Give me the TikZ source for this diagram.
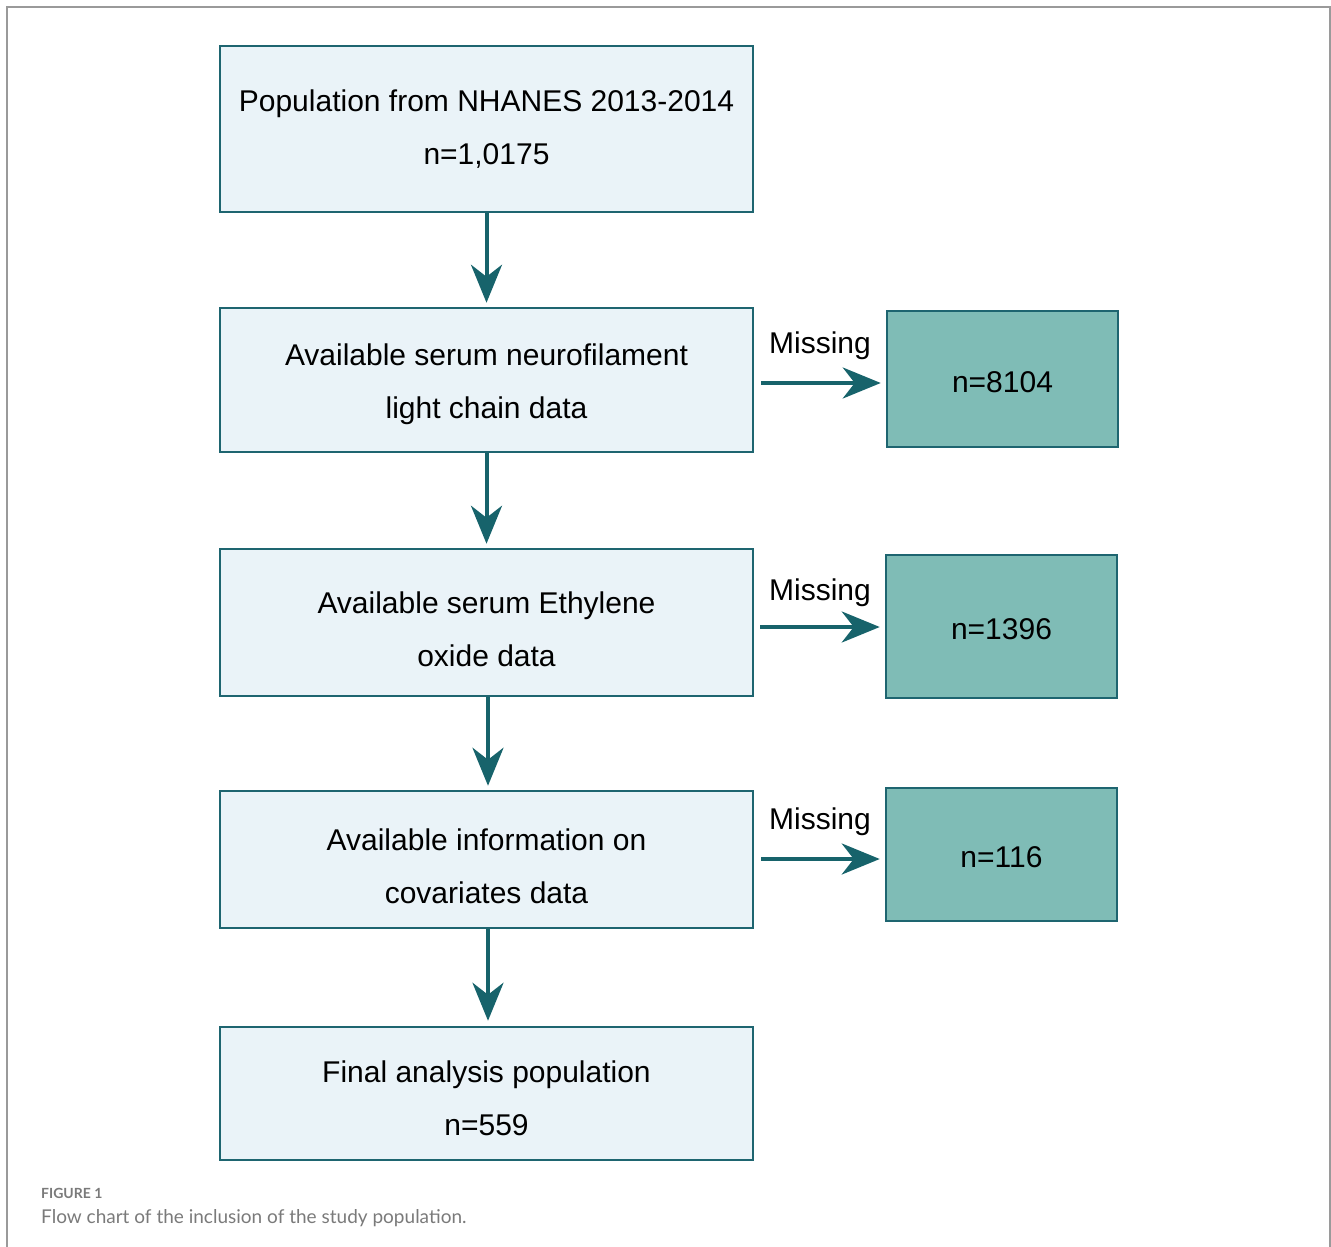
\documentclass[tikz,border=0pt]{standalone}
\usepackage{fontspec}
\setmainfont{Liberation Sans}
\newfontfamily\capfont{Lato}
\usetikzlibrary{arrows.meta}
\definecolor{boxfill}{HTML}{EAF3F8}
\definecolor{boxline}{HTML}{1E6570}
\definecolor{missfill}{HTML}{7FBCB6}
\definecolor{arrowcol}{HTML}{17636B}
\definecolor{framegray}{HTML}{9A9A9A}
\definecolor{capgray}{HTML}{7A7A7A}
\begin{document}
\begin{tikzpicture}[x=1pt,y=-1pt,
  mainbox/.style={draw=boxline, line width=2.5pt, fill=boxfill, minimum width=533pt, inner sep=0pt},
  maintext/.style={align=center, inner sep=0pt, font=\fontsize{30}{53}\selectfont},
  missbox/.style={draw=boxline, line width=2.5pt, fill=missfill, minimum width=231pt, inner sep=0pt},
  lbl/.style={font=\fontsize{30}{35}\selectfont, inner sep=0pt},
  flow/.style={draw=arrowcol, line width=4pt, -{Stealth[length=38pt, width=31pt, inset=12pt]}}
]
\useasboundingbox (0,0) rectangle (1331,1247);
\draw[framegray, line width=1.5pt] (7,1247) -- (7,7) -- (1330,7) -- (1330,1247);

\node[mainbox, minimum height=166pt] (b1) at (486.5,129) {};
\node[mainbox, minimum height=144pt] (b2) at (486.5,380) {};
\node[mainbox, minimum height=147pt] (b3) at (486.5,622.5) {};
\node[mainbox, minimum height=137pt] (b4) at (486.5,859.5) {};
\node[mainbox, minimum height=133pt] (b5) at (486.5,1093.5) {};

\node[maintext] (t1) at (486.5,129) {Population from NHANES 2013-2014\\n=1,0175};
\node[maintext] (t2) at (486.5,384.5) {Available serum neurofilament\\light chain data};
\node[maintext] (t3) at (486.5,629) {Available serum Ethylene\\oxide data};
\node[maintext] (t4) at (486.5,866) {Available information on\\covariates data};
\node[maintext] (t5) at (486.5,1098.5) {Final analysis population\\n=559};

\node[missbox, minimum height=136pt] (r1) at (1002.5,379) {};
\node[missbox, minimum height=143pt] (r2) at (1001.5,626.5) {};
\node[missbox, minimum height=133pt] (r3) at (1001.5,854.5) {};

\node[lbl] (n1) at (1002.5,382.5) {n=8104};
\node[lbl] (n2) at (1001.5,629.5) {n=1396};
\node[lbl] (n3) at (1001.5,857) {n=116};

\node[lbl] (m1) at (820,346) {Missing};
\node[lbl] (m2) at (820,593) {Missing};
\node[lbl] (m3) at (820,822) {Missing};

\draw[flow, shorten >=4pt] (b1.south) -- (b2.north);
\draw[flow, shorten >=4pt] (b2.south) -- (b3.north);
\draw[flow, shorten >=4pt] ([xshift=1.5pt]b3.south) -- ([xshift=1.5pt]b4.north);
\draw[flow, shorten >=5pt] ([xshift=1.5pt]b4.south) -- ([xshift=1.5pt]b5.north);

\coordinate (s1) at (b2.east |- 0,383);
\coordinate (s2) at (b3.east |- 0,627);
\coordinate (s3) at (b4.east |- 0,859);
\draw[flow, shorten <=7pt, shorten >=5pt] (s1) -- (s1 -| r1.west);
\draw[flow, shorten <=6pt, shorten >=5pt] (s2) -- (s2 -| r2.west);
\draw[flow, shorten <=7pt, shorten >=5pt] (s3) -- (s3 -| r3.west);

\node[anchor=base west, inner sep=0pt, font=\capfont\bfseries\fontsize{14}{16}\selectfont, text=capgray] (fig) at (41,1198) {FIGURE 1};
\node[anchor=base west, inner sep=0pt, font=\capfont\fontsize{19}{22}\selectfont, text=capgray] (cap) at (41,1223) {Flow chart of the inclusion of the study population.};
\end{tikzpicture}
\end{document}
